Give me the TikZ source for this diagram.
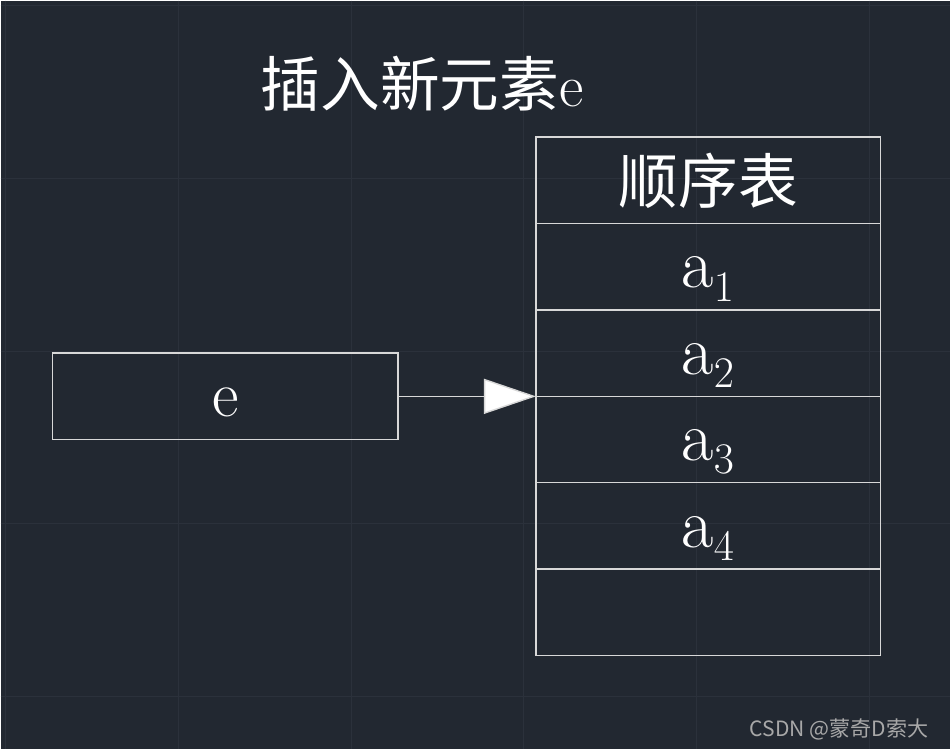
\documentclass[tikz,border=0pt]{standalone}
\usepackage{fontspec}
\usepackage{amsmath}
\usepackage{xcolor}
\usepackage{tikz}
\usetikzlibrary{arrows.meta,positioning}
\newfontfamily\cjk{Noto Sans CJK SC}
\definecolor{bgcol}{HTML}{222831}
\definecolor{gridcol}{HTML}{2B313B}
\definecolor{linecol}{HTML}{D8D8D8}
\definecolor{markcol}{HTML}{A8A8A8}

\begin{document}
\begin{tikzpicture}[
  cell/.style={draw=linecol,line width=0.8pt,text=white,minimum width=6.9cm,
    minimum height=1.73cm,inner sep=0pt,outer sep=0pt,font=\fontsize{34}{40}\selectfont},
  item/.style={cell,text height=0.85cm,text depth=0pt,font=\fontsize{40}{46}\selectfont},
  big/.style={text=white,font=\fontsize{34}{40}\selectfont}]
\fill[bgcol] (0,0) rectangle (19.02,-14.98);
\foreach \k in {0,...,5} \draw[gridcol,line width=0.6pt] (0.1+3.46*\k,0) -- (0.1+3.46*\k,-14.98);
\foreach \k in {0,...,4} \draw[gridcol,line width=0.6pt] (0,-0.1-3.46*\k) -- (19.02,-0.1-3.46*\k);
\node[big] (title) at (8.44,-1.66) {{\cjk 插入新元素}e};
\node[cell] (head) at (14.17,-3.6) {\cjk 顺序表};
\node[item,below=0pt of head] (a1) {$\mathrm{a}_1$};
\node[item,below=0pt of a1] (a2) {$\mathrm{a}_2$};
\node[item,below=0pt of a2] (a3) {$\mathrm{a}_3$};
\node[item,below=0pt of a3] (a4) {$\mathrm{a}_4$};
\node[cell,below=0pt of a4] (free) {};
\node[cell,minimum width=6.92cm,text height=0.8cm,text depth=0pt,font=\fontsize{37}{42}\selectfont] (elem) at (4.5,-7.925) {e};
\draw[linecol,line width=0.8pt,-{Triangle[length=1.04cm,width=0.7cm,fill=white]}] (elem.east) -- (elem.east -| a2.west);
\node[text=markcol,font=\cjk\fontsize{12}{14}\selectfont,anchor=east] (mark) at (18.7,-14.6) {CSDN @蒙奇D索大};
\end{tikzpicture}
\end{document}
